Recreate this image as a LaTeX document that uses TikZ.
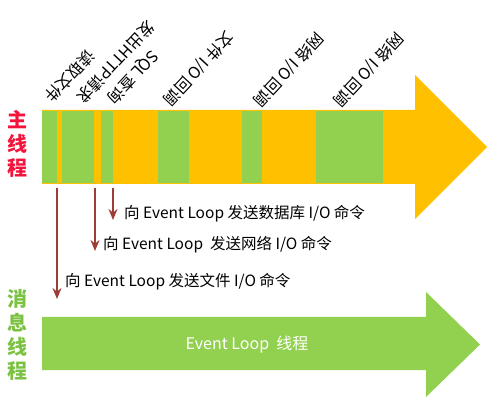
\documentclass[tikz,border=0pt]{standalone}
\usepackage{fontspec}
\newfontfamily\cjk{Noto Sans CJK SC}
\usepackage{xcolor}
\usepackage{tikz}
\usetikzlibrary{arrows.meta}
\usetikzlibrary{positioning}

\definecolor{barorange}{HTML}{FFC000}
\definecolor{bargreen}{HTML}{92D050}
\definecolor{mainred}{HTML}{F2143C}
\definecolor{msggreen}{HTML}{7CC242}
\definecolor{cmdbrown}{HTML}{9E3D36}

\begin{document}
\begin{tikzpicture}[x=1pt, y=1pt,
    every node/.style={font=\cjk, inner sep=0pt},
    side label/.style={font=\cjk\bfseries\fontsize{20}{24}\selectfont, align=center},
    io label/.style={font=\cjk\fontsize{16}{16}\selectfont, rotate=227, anchor=east},
    cmd label/.style={font=\cjk\fontsize{15.5}{16}\selectfont, anchor=west},
    cmd arrow/.style={draw=cmdbrown, line width=2pt, -{Stealth[length=11pt, width=9pt]}},
  ]

  \useasboundingbox (0,0) rectangle (500,404);

  % main thread
  \fill[barorange] (42,294) -- (415,294) -- (415,329) -- (487,257)
    -- (415,185) -- (415,220) -- (42,220) -- cycle;
  \foreach \a/\b in {42/57, 62/94, 101/113, 158/189, 242/262, 316/383}
    \fill[bargreen] (\a,293) rectangle (\b,221);

  % event loop thread
  \fill[bargreen] (42,87) -- (426,87) -- (426,112) -- (480,59.5)
    -- (426,7) -- (426,34) -- (42,34) -- cycle;
  \node[text=white, font=\cjk\fontsize{16}{16}\selectfont] (evloop) at (247,59) {Event Loop\ \ 线程};

  \node[side label, text=mainred]  (mainlbl) at (18,260) {主\\线\\程};
  \node[side label, text=msggreen] (msglbl)  at (18,69)  {消\\息\\线\\程};

  \node[io label] (readfile) at (48,304)  {读取文件};
  \node[io label] (httpreq)  at (80,303)  {发出HTTP请求};
  \node[io label] (sqlq)     at (110,303) {SQL 查询};
  \node[io label] (filecb)   at (166,301) {文件 I/O 回调};
  \node[io label] (netcba)   at (256,300) {网络 I/O 回调};
  \node[io label] (netcbb)   at (336,300) {网络 I/O 回调};

  \node[cmd label] (dbcmd)   at (124,190) {向 Event Loop 发送数据库 I/O 命令};
  \node[cmd label] (netcmd)  at (103,159) {向 Event Loop\ \ 发送网络 I/O 命令};
  \node[cmd label] (filecmd) at (65,122)  {向 Event Loop 发送文件 I/O 命令};

  \coordinate (filesrc) at (57,216);
  \coordinate (filedst) at (57,105);
  \coordinate (netsrc)  at (95,216);
  \coordinate (netdst)  at (95,153);
  \coordinate (dbsrc)   at (113,216);
  \coordinate (dbdst)   at (113,184);

  \draw[cmd arrow] (filesrc) -- (filedst);
  \draw[cmd arrow] (netsrc) -- (netdst);
  \draw[cmd arrow] (dbsrc) -- (dbdst);

\end{tikzpicture}
\end{document}
